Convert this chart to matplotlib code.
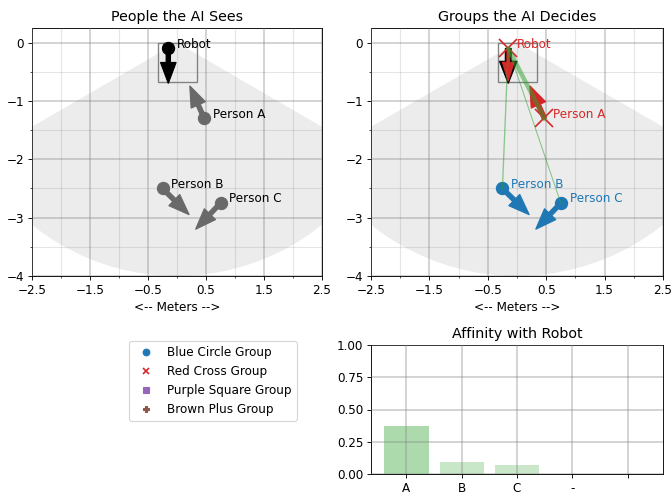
import matplotlib
matplotlib.use("Agg")
import matplotlib.pyplot as plt
from matplotlib.patches import Wedge, Rectangle
from matplotlib.lines import Line2D
from matplotlib.ticker import MultipleLocator

# robot pose and people seen by the AI
robot_x, robot_y = -0.15, -0.1
robot_dx, robot_dy = 0.0, -0.6

names = ["Person A", "Person B", "Person C"]
px = [0.47, -0.25, 0.75]
py = [-1.3, -2.5, -2.75]
pdx = [-0.25, 0.46, -0.43]
pdy = [0.56, -0.45, -0.45]
groups = ["red", "blue", "blue"]

# affinity bars
bar_labels = ["A", "B", "C", "-", ""]
affinity = [0.375, 0.09, 0.07, 0.0, 0.0]
bar_alpha = [0.39, 0.26, 0.25, 0.25, 0.25]

colors = {"blue": "tab:blue", "red": "tab:red"}

plt.rcParams["font.size"] = 10.8
plt.rcParams["axes.titlesize"] = 12.8

W, H = 671, 496
fig = plt.figure(figsize=(W / 80, H / 80), dpi=80)

def setup_scene(ax):
    ax.add_patch(Wedge((0, 0), 4, 210, 330, color="gray", alpha=0.15, lw=0))
    ax.add_patch(Rectangle((-0.33, -0.67), 0.67, 0.67, fill=False, ec="gray", lw=1.2))
    ax.set_xlim(-2.5, 2.5)
    ax.set_ylim(-4, 0.25)
    ax.set_xticks([-2.5, -1.5, -0.5, 0.5, 1.5, 2.5])
    ax.xaxis.set_minor_locator(MultipleLocator(0.5))
    ax.yaxis.set_major_locator(MultipleLocator(1))
    ax.yaxis.set_minor_locator(MultipleLocator(0.5))
    ax.grid(which="major", color="gray", lw=1.5, alpha=0.4)
    ax.grid(which="minor", color="gray", lw=1, alpha=0.2)
    ax.set_axisbelow(False)
    ax.set_xlabel("<-- Meters -->")

def arrow(ax, x, y, dx, dy, c, w=0.075, hw=0.27, hl=0.36, z=3):
    ax.arrow(x, y, dx, dy, width=w, head_width=hw, head_length=hl,
             length_includes_head=True, fc=c, ec=c, zorder=z)

# left: people the AI sees
ax1 = fig.add_axes([32 / W, 1 - 276 / H, 290 / W, 248 / H])
setup_scene(ax1)
ax1.set_title("People the AI Sees")
ax1.plot(robot_x, robot_y, "o", color="black", ms=11, zorder=4)
arrow(ax1, robot_x, robot_y, robot_dx, robot_dy, "black")
ax1.text(robot_x + 0.15, robot_y + 0.07, "Robot", va="center", zorder=5)
for i in range(len(names)):
    ax1.plot(px[i], py[i], "o", color="dimgray", ms=11, zorder=4)
    arrow(ax1, px[i], py[i], pdx[i], pdy[i], "dimgray")
    ax1.text(px[i] + 0.15, py[i] + 0.07, names[i], va="center", zorder=5)

# right: groups the AI decides
ax2 = fig.add_axes([371 / W, 1 - 276 / H, 292 / W, 248 / H])
setup_scene(ax2)
ax2.set_title("Groups the AI Decides")
arrow(ax2, robot_x, robot_y, robot_dx, robot_dy, "black", w=0.1, hw=0.3, hl=0.38)
arrow(ax2, robot_x, robot_y, robot_dx * 0.93, robot_dy * 0.93, "tab:red",
      w=0.045, hw=0.2, hl=0.32, z=4)
ax2.plot(robot_x, robot_y, "x", color="tab:red", ms=16, mew=1.5, zorder=4)
ax2.text(robot_x + 0.15, robot_y + 0.07, "Robot", va="center", color="tab:red", zorder=5)
for i in range(len(names)):
    c = colors[groups[i]]
    arrow(ax2, px[i], py[i], pdx[i], pdy[i], c)
    if groups[i] == "red":
        ax2.plot(px[i], py[i], "x", color=c, ms=16, mew=1.5, zorder=4)
    else:
        ax2.plot(px[i], py[i], "o", color=c, ms=11, zorder=4)
    ax2.text(px[i] + 0.15, py[i] + 0.07, names[i], va="center", color=c, zorder=5)
    ax2.plot([robot_x, px[i]], [robot_y, py[i]], color="tab:green",
             lw=affinity[i] * 10 + 0.3, alpha=0.5, zorder=6)

# legend in the empty lower-left cell
handles = [
    Line2D([], [], ls="", marker="o", color="tab:blue", label="Blue Circle Group"),
    Line2D([], [], ls="", marker="x", color="tab:red", mew=1.5, label="Red Cross Group"),
    Line2D([], [], ls="", marker="s", color="tab:purple", label="Purple Square Group"),
    Line2D([], [], ls="", marker="P", color="tab:brown", label="Brown Plus Group"),
]
fig.legend(handles=handles, loc="upper left",
           bbox_to_anchor=(129 / W, 1 - 341 / H), borderaxespad=0)

# bottom right: affinity bars
ax3 = fig.add_axes([371 / W, 1 - 474 / H, 292 / W, 129 / H])
for i in range(len(bar_labels)):
    ax3.bar(i, affinity[i], color="tab:green", alpha=bar_alpha[i], width=0.8)
ax3.set_xticks(range(len(bar_labels)))
ax3.set_xticklabels(bar_labels)
ax3.set_ylim(0, 1)
ax3.set_yticks([0, 0.25, 0.5, 0.75, 1.0])
ax3.grid(color="gray", lw=1.5, alpha=0.4)
ax3.set_axisbelow(False)
ax3.set_title("Affinity with Robot")

fig.savefig("out.png", dpi=80)
